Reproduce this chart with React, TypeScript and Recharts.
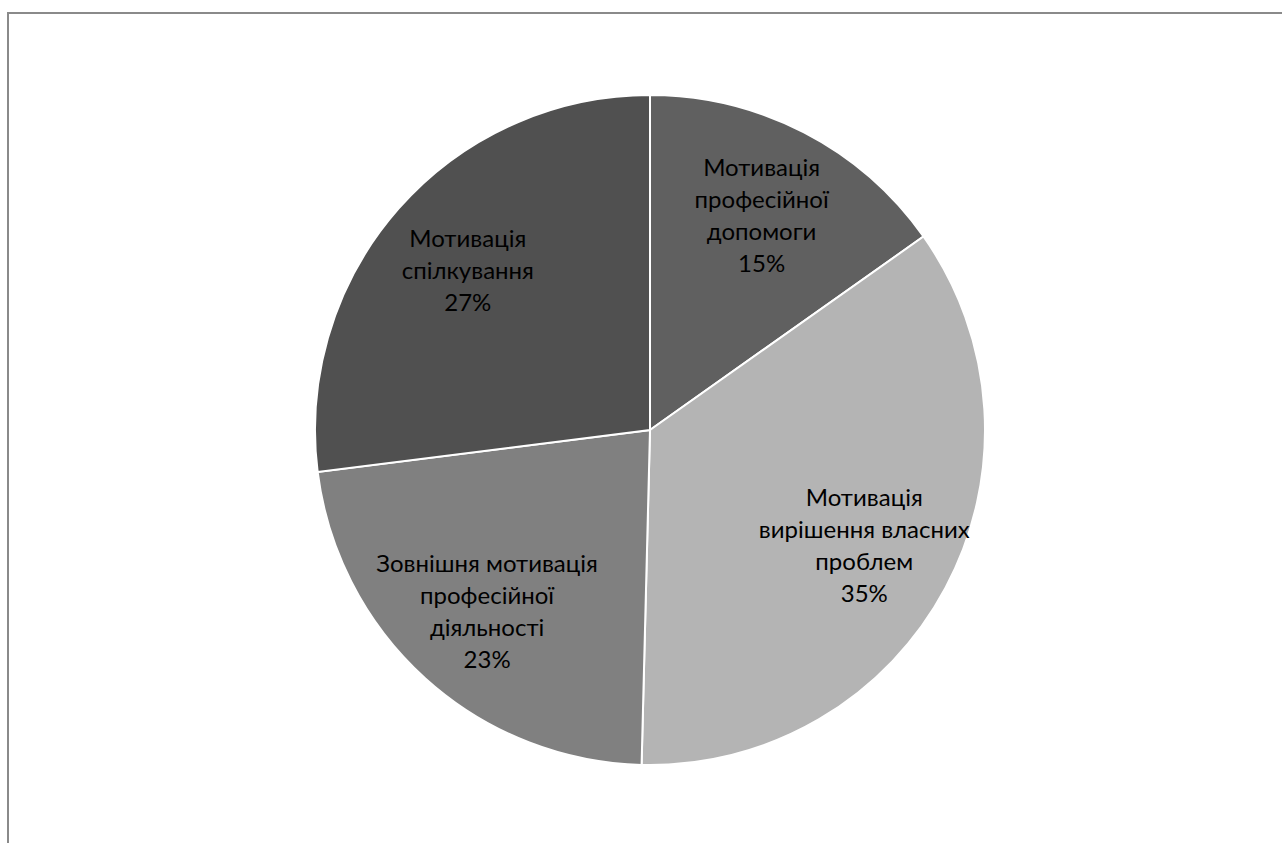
import React from "react";
import { PieChart, Pie, Cell } from "recharts";

const categories = [
  "Мотивація\nпрофесійної\nдопомоги",
  "Мотивація\nвирішення власних\nпроблем",
  "Зовнішня мотивація\nпрофесійної\nдіяльності",
  "Мотивація\nспілкування",
];
const values = [15.2, 35.2, 22.6, 27.0];
const colors = ["#606060", "#b4b4b4", "#808080", "#505050"];

const data = categories.map((name, i) => ({ name, value: values[i] }));

const RAD = Math.PI / 180;

const renderLabel = (props: any) => {
  const { cx, cy, midAngle, outerRadius, percent, name } = props;
  const r = outerRadius * 0.725;
  const x = cx + r * Math.cos(-midAngle * RAD);
  const y = cy + r * Math.sin(-midAngle * RAD);
  const lines = [...String(name).split("\n"), `${Math.round(percent * 100)}%`];
  const lh = 32;
  const start = -((lines.length - 1) / 2) * lh;
  return (
    <text
      x={x}
      y={y}
      textAnchor="middle"
      dominantBaseline="central"
      fill="#000"
      style={{ fontFamily: "Lato, 'Liberation Sans', sans-serif", fontSize: 24 }}
    >
      {lines.map((l, i) => (
        <tspan key={i} x={x} y={y + start + i * lh}>
          {l}
        </tspan>
      ))}
    </text>
  );
};

export default function App() {
  return (
    <div
      style={{
        position: "fixed",
        left: 0,
        top: 0,
        width: 1282,
        height: 843,
        overflow: "hidden",
        background: "#fff",
      }}
    >
      <div
        style={{
          position: "absolute",
          left: 7,
          top: 12,
          width: 1400,
          height: 1000,
          borderTop: "2px solid #8a8a8a",
          borderLeft: "2px solid #8a8a8a",
        }}
      />
      <div style={{ position: "absolute", left: 0, top: 0 }}>
        <PieChart width={1282} height={843} margin={{ top: 0, right: 0, bottom: 0, left: 0 }}>
          <Pie
            data={data}
            dataKey="value"
            nameKey="name"
            cx={650}
            cy={430}
            outerRadius={335}
            startAngle={90}
            endAngle={-270}
            stroke="#ffffff"
            strokeWidth={2}
            label={renderLabel}
            labelLine={false}
            isAnimationActive={false}
          >
            {data.map((d, i) => (
              <Cell key={i} fill={colors[i]} />
            ))}
          </Pie>
        </PieChart>
      </div>
    </div>
  );
}
